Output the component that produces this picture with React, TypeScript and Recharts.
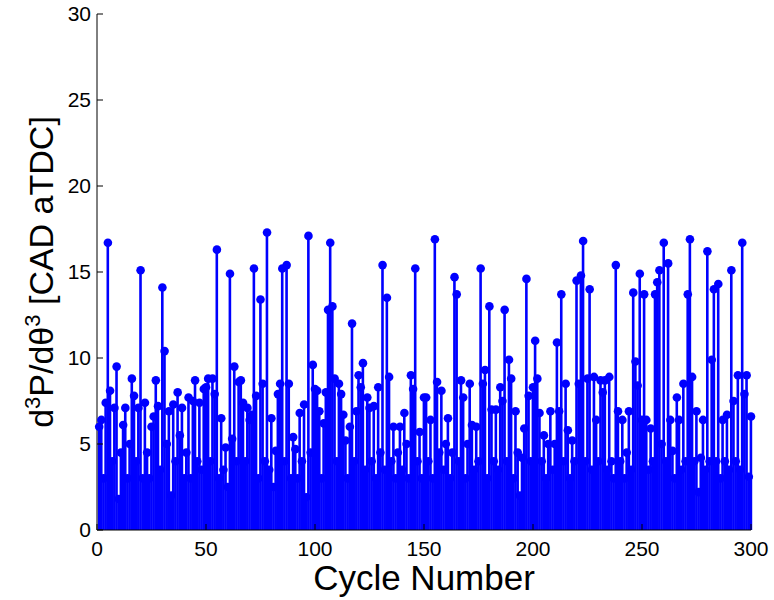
import React from 'react';
import { ComposedChart, Bar, Line, XAxis, YAxis } from 'recharts';

// d3P/dθ3 peak location per cycle
const stemValues: number[] = [
  6.0, 6.4, 3.0, 7.4, 16.7, 8.1, 4.0, 7.1, 9.5, 1.8, 4.5, 6.1, 7.1, 3.0, 5.0, 8.8, 7.8, 4.0, 7.1, 15.1,
  3.0, 7.4, 4.5, 3.0, 6.0, 6.6, 8.7, 7.2, 3.5, 14.1, 10.4, 5.0, 6.9, 2.0, 7.3, 4.0, 8.0, 5.5, 7.1, 3.0,
  4.5, 7.7, 3.0, 7.5, 8.7, 4.0, 7.4, 3.5, 8.2, 8.3, 8.8, 4.0, 8.8, 7.9, 16.3, 3.0, 6.5, 3.5, 4.8, 2.5,
  14.9, 5.3, 9.5, 4.0, 8.6, 8.7, 7.4, 4.0, 7.1, 6.4, 6.7, 15.2, 7.8, 3.0, 13.4, 8.5, 4.0, 17.3, 3.5, 6.5,
  2.5, 4.6, 7.9, 8.5, 15.2, 4.0, 15.4, 8.5, 3.0, 5.4, 4.7, 3.0, 6.8, 4.0, 7.3, 1.9, 17.1, 4.5, 9.6, 8.2,
  8.1, 6.9, 3.0, 6.2, 8.0, 12.8, 16.7, 13.0, 8.8, 4.0, 8.5, 7.9, 6.7, 5.2, 3.0, 6.0, 12.0, 4.0, 6.9, 9.0,
  8.3, 9.7, 3.5, 7.7, 7.1, 4.0, 7.2, 3.0, 8.3, 4.5, 15.4, 3.5, 13.5, 8.9, 4.0, 6.0, 3.0, 4.5, 6.0, 3.5,
  6.8, 5.0, 3.0, 9.0, 8.2, 15.2, 4.0, 5.7, 3.0, 7.7, 7.7, 4.0, 6.4, 3.0, 16.9, 8.6, 4.5, 8.1, 3.5, 5.0,
  6.5, 3.0, 4.5, 14.7, 13.7, 4.0, 8.7, 7.7, 3.0, 5.0, 8.5, 6.1, 3.5, 6.0, 4.0, 15.2, 8.5, 9.3, 3.0, 13.0,
  7.0, 4.0, 7.0, 3.5, 8.3, 7.5, 12.8, 4.0, 9.9, 8.8, 3.0, 6.9, 4.5, 2.0, 4.2, 5.9, 14.6, 7.8, 4.0, 8.3,
  11.0, 8.8, 6.8, 4.0, 5.5, 3.0, 5.0, 6.9, 3.5, 5.0, 10.9, 6.9, 13.7, 4.0, 8.5, 5.8, 3.0, 5.2, 4.0, 14.5,
  8.5, 14.8, 16.8, 4.0, 8.8, 14.0, 3.5, 8.9, 6.4, 4.0, 8.7, 8.0, 8.7, 3.5, 8.9, 4.0, 3.0, 15.4, 6.9, 4.0,
  6.4, 3.0, 4.5, 6.9, 3.5, 13.8, 9.8, 8.4, 14.9, 6.4, 13.7, 6.4, 3.5, 5.9, 4.0, 13.7, 14.4, 15.1, 5.0, 16.7,
  4.0, 15.5, 6.4, 4.6, 3.0, 7.7, 6.4, 3.5, 8.5, 4.0, 13.7, 16.9, 8.9, 4.0, 6.9, 2.2, 4.2, 6.4, 3.5, 16.2,
  4.0, 9.9, 14.0, 4.0, 14.3, 3.0, 6.4, 4.0, 6.7, 3.5, 15.1, 7.5, 4.0, 9.0, 3.5, 16.7, 7.9, 9.0, 3.1, 6.6,
];

const xTicks = [0, 50, 100, 150, 200, 250, 300];
const yTicks = [0, 5, 10, 15, 20, 25, 30];

const data = stemValues.map((v, i) => ({ cycle: i + 1, value: v }));

const FONT = '"Liberation Sans", Arial, Helvetica, sans-serif';
const BLUE = '#0000ff';
const STEM_W = 2.6;

// stem drawn centred on the bar slot the library computes
const Stem = (props: any) => {
  const { x, y, width, height } = props;
  if (height == null || height <= 0) return null;
  return <rect x={x + width / 2 - STEM_W / 2} y={y} width={STEM_W} height={height} fill={BLUE} />;
};

const XLabel = (props: any) => {
  const { viewBox } = props;
  return (
    <text
      x={viewBox.x + viewBox.width / 2}
      y={viewBox.y + 60}
      textAnchor="middle"
      fontFamily={FONT}
      fontSize={35}
      fill="#000"
    >
      Cycle Number
    </text>
  );
};

const YLabel = (props: any) => {
  const { viewBox } = props;
  const cx = 53;
  const cy = viewBox.y + viewBox.height / 2;
  return (
    <text
      x={cx}
      y={cy}
      transform={`rotate(-90, ${cx}, ${cy})`}
      textAnchor="middle"
      fontFamily={FONT}
      fontSize={34}
      fill="#000"
    >
      d<tspan dy={-13} fontSize={22}>3</tspan>
      <tspan dy={13}>P/dθ</tspan>
      <tspan dy={-13} fontSize={22}>3</tspan>
      <tspan dy={13}> [CAD aTDC]</tspan>
    </text>
  );
};

const tickStyle = { fontSize: 21, fill: '#000', fontFamily: FONT };
const blank = () => '';

export default function App() {
  return (
    <div style={{ position: 'absolute', left: 0, top: 0, background: '#fff' }}>
      <ComposedChart
        width={774}
        height={600}
        data={data}
        margin={{ top: 14, right: 23, bottom: 0, left: 0 }}
      >
        <XAxis
          xAxisId="b"
          type="number"
          dataKey="cycle"
          domain={[0, 300]}
          ticks={xTicks}
          height={70}
          tickSize={-6}
          tickMargin={17}
          tick={tickStyle}
          stroke="#000"
          tickLine={{ stroke: '#000' }}
          label={<XLabel />}
        />
        <XAxis
          xAxisId="t"
          orientation="top"
          type="number"
          dataKey="cycle"
          domain={[0, 300]}
          ticks={xTicks}
          height={0}
          tickSize={-6}
          tickFormatter={blank}
          stroke="#000"
        />
        <YAxis
          yAxisId="l"
          domain={[0, 30]}
          ticks={yTicks}
          width={97}
          tickSize={-6}
          tickMargin={12}
          tick={tickStyle}
          stroke="#000"
          label={<YLabel />}
        />
        <YAxis
          yAxisId="r"
          orientation="right"
          domain={[0, 30]}
          ticks={yTicks}
          width={0}
          tickSize={-6}
          tickFormatter={blank}
          stroke="#000"
        />
        <Bar
          xAxisId="b"
          yAxisId="l"
          dataKey="value"
          barSize={2}
          fill={BLUE}
          shape={<Stem />}
          isAnimationActive={false}
        />
        <Line
          xAxisId="b"
          yAxisId="l"
          dataKey="value"
          stroke="none"
          dot={{ r: 4.3, fill: BLUE, stroke: 'none' }}
          activeDot={false}
          isAnimationActive={false}
        />
      </ComposedChart>
    </div>
  );
}
